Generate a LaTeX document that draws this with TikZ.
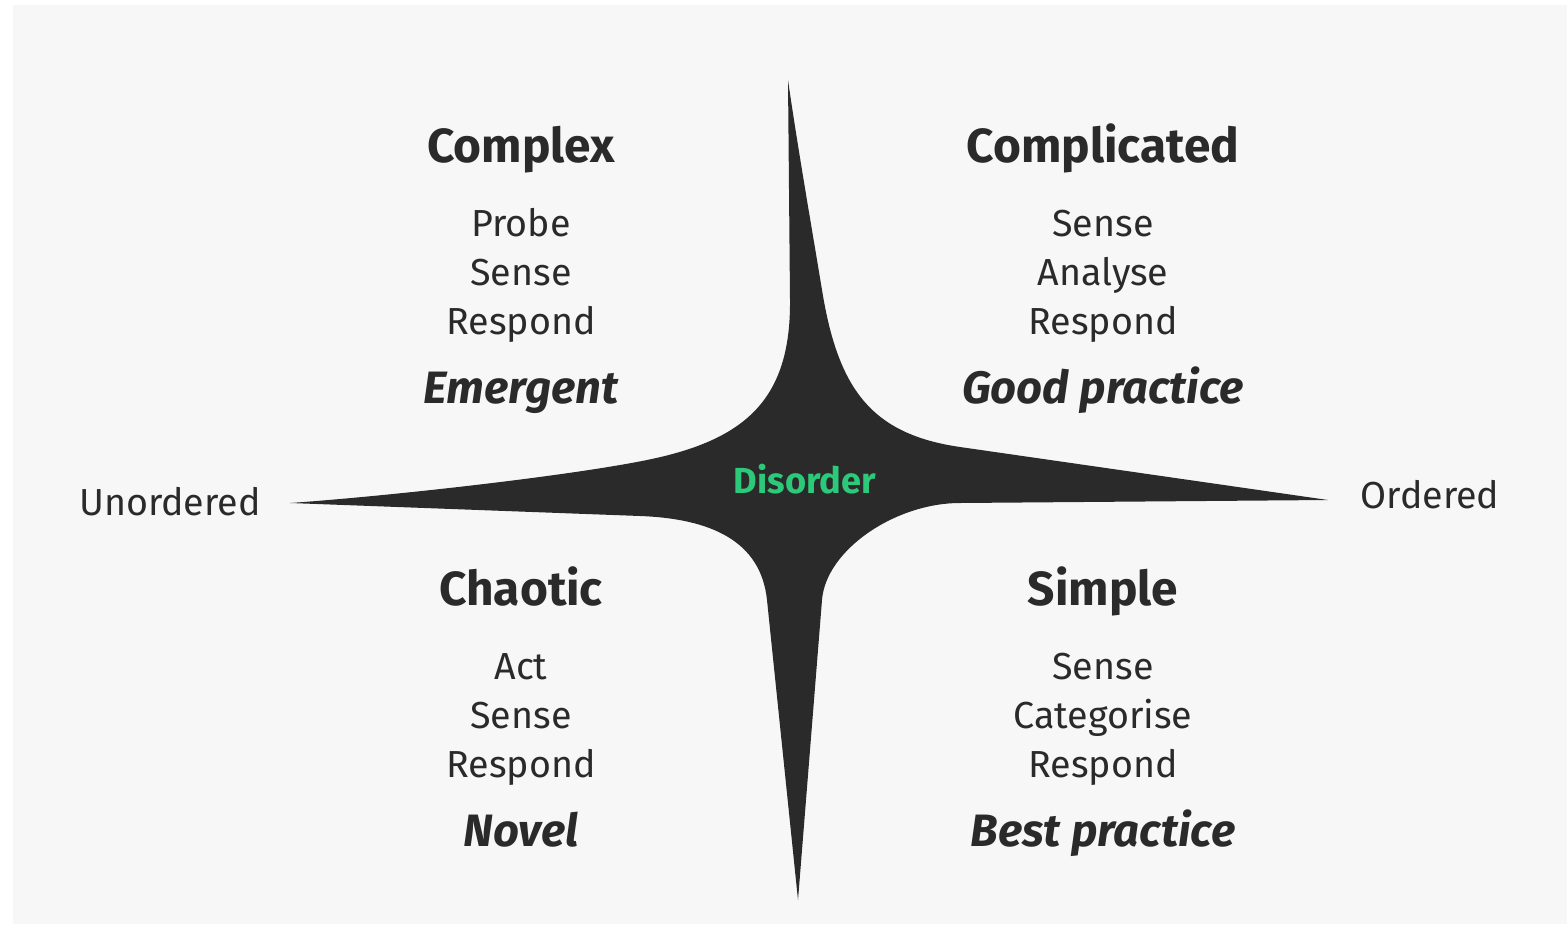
\documentclass[tikz,border=0pt]{standalone}
\usepackage{fontspec}
\setmainfont{Fira Sans}
\definecolor{bg}{HTML}{F7F7F8}
\definecolor{ink}{HTML}{2A2A2A}
\definecolor{disgreen}{HTML}{2CC97A}
\tikzset{head/.style = {anchor = base, inner sep = 0, text = ink, font = \fontsize{13.6}{16}\selectfont\bfseries}}
\tikzset{verb/.style = {anchor = base, inner sep = 0, text = ink, font = \fontsize{10.7}{13}\selectfont}}
\tikzset{practice/.style = {anchor = base, inner sep = 0, text = ink, font = \fontsize{12.9}{15}\selectfont\bfseries\itshape}}
\tikzset{axislabel/.style = {anchor = base, inner sep = 0, text = ink, font = \fontsize{10.7}{13}\selectfont}}

\begin{document}
\begin{tikzpicture}[x = 0.01cm, y = -0.01cm]
    \useasboundingbox (0, 0) rectangle (1567, 924);
    \fill [white] (0, 0) rectangle (1567, 924);
    \fill [bg] (13, 5) rectangle (1567, 924);

    \fill [ink] (788, 80)
      .. controls (798, 150) and (815.6, 250.5) .. (822, 290)
      .. controls (838, 388.7) and (870.9, 434.1) .. (960, 447)
      -- (1328, 500) -- (960, 503)
      .. controls (895, 503) and (825.8, 550.2) .. (822, 600)
      -- (798, 900) -- (767, 600)
      .. controls (760.8, 540.3) and (709.9, 518.6) .. (640, 516)
      -- (290, 503)
      .. controls (390, 496) and (568.6, 476) .. (647, 460)
      .. controls (745, 440) and (790.9, 400) .. (790, 300)
      -- cycle;

    \node [head] (complex) at (521, 162) {Complex};
    \node [verb] (complexA) at (521, 236) {Probe};
    \node [verb] (complexB) at (521, 285) {Sense};
    \node [verb] (complexC) at (521, 334) {Respond};
    \node [practice] (complexP) at (521, 403) {Emergent};

    \node [head] (complicated) at (1103, 162) {Complicated};
    \node [verb] (complicatedA) at (1103, 236) {Sense};
    \node [verb] (complicatedB) at (1103, 285) {Analyse};
    \node [verb] (complicatedC) at (1103, 334) {Respond};
    \node [practice] (complicatedP) at (1103, 403) {Good practice};

    \node [head] (chaotic) at (521, 605) {Chaotic};
    \node [verb] (chaoticA) at (521, 679) {Act};
    \node [verb] (chaoticB) at (521, 728) {Sense};
    \node [verb] (chaoticC) at (521, 777) {Respond};
    \node [practice] (chaoticP) at (521, 846) {Novel};

    \node [head] (simple) at (1103, 605) {Simple};
    \node [verb] (simpleA) at (1103, 679) {Sense};
    \node [verb] (simpleB) at (1103, 728) {Categorise};
    \node [verb] (simpleC) at (1103, 777) {Respond};
    \node [practice] (simpleP) at (1103, 846) {Best practice};

    \node [axislabel] (unordered) at (170, 515) {Unordered};
    \node [axislabel] (ordered) at (1430, 508) {Ordered};
    \node [anchor = base, inner sep = 0, text = disgreen, font = \fontsize{10.3}{12}\selectfont\bfseries] (disorder) at (805, 493) {Disorder};
\end{tikzpicture}
\end{document}
